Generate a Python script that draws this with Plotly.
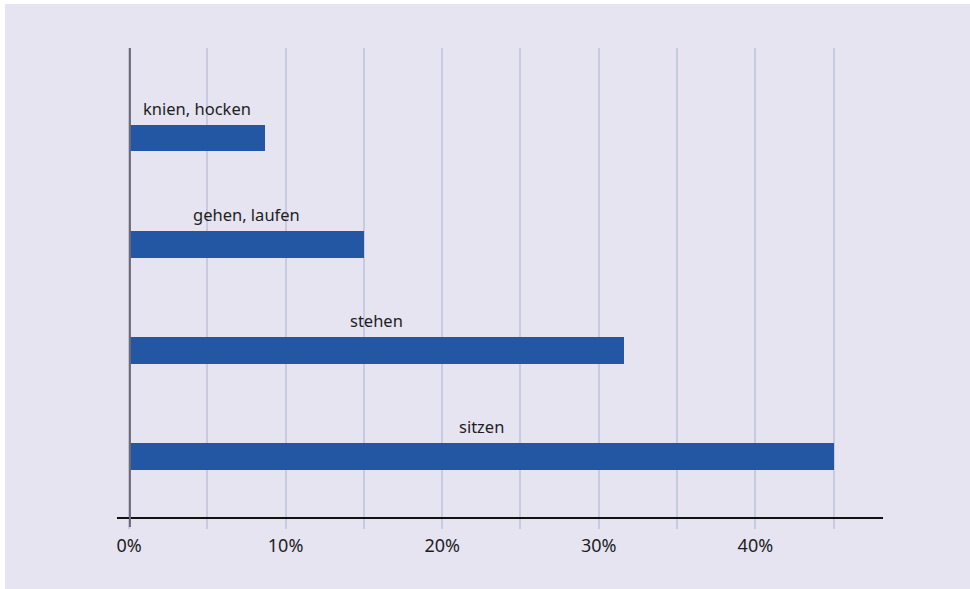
import plotly.graph_objects as go

# Share of working time by body posture
categories = ["sitzen", "stehen", "gehen, laufen", "knien, hocken"]
values = [45, 31.6, 15, 8.7]
tick_values = [0, 5, 10, 15, 20, 25, 30, 35, 40, 45]
tick_labels = ["0%", "", "10%", "", "20%", "", "30%", "", "40%", ""]

BAR = "#2457a3"
BG = "#e6e4f1"
GRID = "#c8cae2"
TEXT = "#1e1e1e"
FONT = "Noto Sans"

positions = list(range(len(categories)))

fig = go.Figure()
fig.add_trace(go.Bar(
    x=values,
    y=positions,
    orientation="h",
    width=0.252,
    marker=dict(color=BAR, line=dict(width=0)),
    hoverinfo="skip",
))

# category names centred above each bar
for pos, name, val in zip(positions, categories, values):
    fig.add_annotation(
        x=val / 2, y=pos + 0.126, xref="x", yref="y",
        text=name, showarrow=False, yanchor="bottom", yshift=3,
        font=dict(family=FONT, size=16.5, color=TEXT),
    )

# lavender panel behind the chart, leaving a thin white edge top/left
fig.add_shape(
    type="rect", xref="paper", yref="paper",
    x0=(5 - 117) / 766, x1=(975 - 117) / 766,
    y0=(517 - 595) / 469, y1=(517 - 4) / 469,
    fillcolor=BG, line=dict(width=0), layer="below",
)

# vertical baseline at 0 %, reaching down through the tick area
fig.add_shape(
    type="line", xref="x", yref="paper",
    x0=0.06, x1=0.06, y0=-10 / 469, y1=1,
    line=dict(color="#6b6b78", width=2), layer="above",
)

fig.update_layout(
    width=970, height=589,
    margin=dict(l=117, r=87, t=48, b=72),
    paper_bgcolor="white",
    plot_bgcolor="rgba(0,0,0,0)",
    showlegend=False,
    bargap=0,
    xaxis=dict(
        range=[-0.766, 48.15],
        tickmode="array", tickvals=tick_values, ticktext=tick_labels,
        showgrid=True, gridcolor=GRID, gridwidth=1.5,
        zeroline=False,
        showline=True, linecolor="#111111", linewidth=1.5,
        ticks="outside", ticklen=10, tickcolor=GRID, tickwidth=1.5,
        ticklabelstandoff=2,
        tickfont=dict(family=FONT, size=18, color=TEXT),
    ),
    yaxis=dict(
        range=[-0.571, 3.849],
        showgrid=False, zeroline=False, showline=False,
        showticklabels=False, ticks="",
    ),
)

fig.write_html("out.html")
